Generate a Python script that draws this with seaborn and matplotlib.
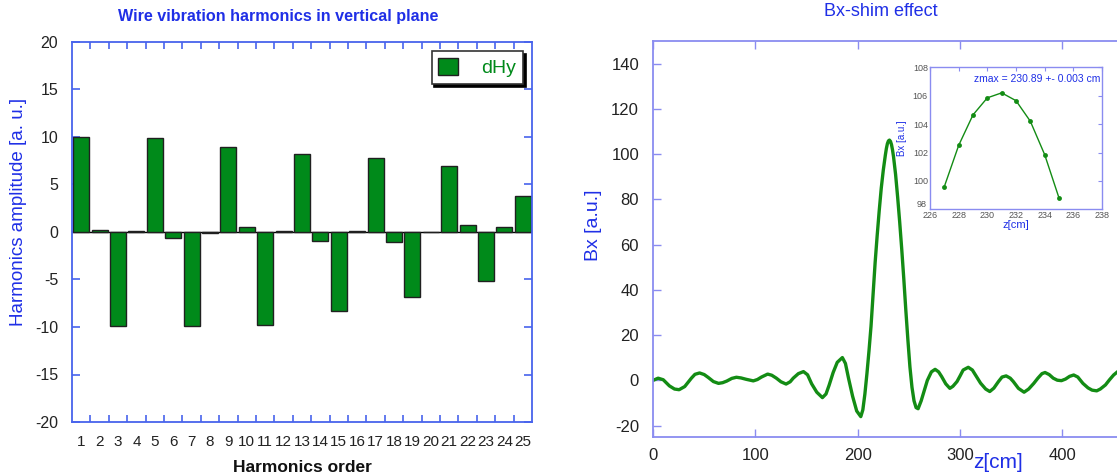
import numpy as np
import pandas as pd
import matplotlib
matplotlib.use("Agg")
import matplotlib.pyplot as plt
from matplotlib.patches import Patch
from matplotlib.ticker import MultipleLocator, FixedLocator
import seaborn as sns

# ---------------- data ----------------
harm_order = list(range(1, 26))
harm_dHy = [10.0, 0.2, -9.9, 0.1, 9.85, -0.6, -9.9, -0.15, 8.95, 0.5,
            -9.8, 0.1, 8.25, -0.95, -8.3, 0.1, 7.8, -1.05, -6.85, 0.0,
            6.95, 0.75, -5.15, 0.5, 3.8]

bx_z = [0, 5, 10, 16, 21, 25.5, 31, 37.5, 41, 45.5, 50, 54, 59, 64, 68, 72, 77,
        81.5, 86, 91, 98, 102, 106, 112, 116, 120.5, 125, 130, 134, 137, 142,
        147, 151, 155, 160, 165.5, 169, 172, 176, 180, 185, 188, 191, 195, 199,
        203, 205, 207, 209, 211, 213, 215, 217, 219, 221, 223, 225, 227, 228,
        229, 230, 231, 232, 233, 234, 235, 237, 239, 241, 243, 245, 247, 249,
        251, 253, 255, 257, 259, 262, 265, 268, 272, 275.6, 279, 282, 286, 290,
        293, 297, 300, 303, 308, 312, 316, 320, 325, 329, 333, 337.5, 341, 345,
        349, 352, 357, 362.5, 367, 372, 376, 380, 383, 387, 391, 395, 399, 403,
        407, 411, 415, 420, 425, 429, 433.5, 437, 442, 446, 450, 454]
bx_val = [0, 1.0, 0.3, -2.4, -3.8, -4.1, -2.7, 1.0, 2.7, 3.3, 2.6, 1.3, -0.5,
          -1.3, -1.0, -0.3, 0.9, 1.4, 1.1, 0.5, -0.2, 0.4, 1.5, 2.8, 2.3, 1.0,
          -0.6, -1.6, -0.6, 1.0, 3.0, 3.9, 2.5, -1.5, -5.2, -7.6, -6.0, -2.2,
          3.5, 8.0, 10.1, 7.5, 1.0, -7.0, -13.5, -16.0, -13.0, -6.0, 3.0, 13.0,
          24.0, 38.0, 52.0, 64.0, 75.0, 85.0, 93.0, 99.6, 102.5, 104.65, 105.85,
          106.2, 105.65, 104.2, 101.85, 98.8, 91.0, 81.0, 70.0, 58.0, 45.0,
          31.0, 18.0, 6.0, -3.0, -9.0, -12.0, -12.5, -9.0, -4.5, 0.0, 3.8, 4.9,
          3.8, 1.7, -1.5, -3.5, -2.6, -0.5, 2.0, 4.6, 5.8, 4.6, 1.7, -1.2, -3.8,
          -4.9, -3.4, -0.5, 1.5, 2.0, 1.0, -0.5, -3.5, -5.2, -3.8, -1.3, 1.0,
          3.0, 3.5, 2.6, 1.0, 0.1, -0.1, 0.6, 1.8, 2.4, 1.5, -1.3, -3.3, -4.3,
          -4.6, -3.8, -2.0, 0.3, 2.4, 3.9]

inset_z = [227, 228, 229, 230, 231, 232, 233, 234, 235]
inset_bx = [99.6, 102.5, 104.65, 105.85, 106.2, 105.65, 104.2, 101.85, 98.8]

right_xticks = [0, 100, 200, 300, 400]

left_title = "Wire vibration harmonics in vertical plane"
right_title = "Bx-shim effect"
zmax_text = "zmax = 230.89 +- 0.003 cm"

# ---------------- style ----------------
sns.set_theme(style="white")
plt.rcParams["font.family"] = ["Liberation Sans", "DejaVu Sans"]
plt.rcParams["axes.unicode_minus"] = False

BLUE = "#1f2fe6"
SPINE_L = "#4863ec"
SPINE_R = "#8a8cf0"
BAR_GREEN = "#008a1a"
LINE_GREEN = "#138c14"
TICK_TXT = "#222222"

fig = plt.figure(figsize=(11.17, 4.76), dpi=100)
fig.patch.set_facecolor("white")

# ---------------- left: bar chart ----------------
axL = fig.add_axes([72 / 1117, 1 - 422 / 476, 460 / 1117, 380 / 476])
dfh = pd.DataFrame({"order": [str(o) for o in harm_order], "dHy": harm_dHy})
sns.barplot(data=dfh, x="order", y="dHy", color=BAR_GREEN, saturation=1,
            width=0.86, edgecolor="#202020", linewidth=1.0, ax=axL)
axL.axhline(0, color="black", lw=1.0, zorder=0.5)
axL.set_xlim(-0.5, len(harm_order) - 0.5)
axL.set_ylim(-20, 20)
axL.yaxis.set_major_locator(MultipleLocator(5))
axL.xaxis.set_minor_locator(FixedLocator(np.arange(0.5, len(harm_order) - 1, 1.0)))
axL.tick_params(axis="x", which="major", length=0, pad=9, labelsize=11,
                labelcolor=TICK_TXT)
axL.tick_params(axis="x", which="minor", direction="in", length=5, width=1.2,
                color=SPINE_L, top=True, bottom=True)
axL.tick_params(axis="y", which="major", direction="in", length=6, width=1.2,
                color=SPINE_L, left=True, right=True, labelsize=11.5,
                labelcolor=TICK_TXT, pad=10)
for s in axL.spines.values():
    s.set_color(SPINE_L)
    s.set_linewidth(1.3)
axL.set_xlabel("Harmonics order", fontsize=12.5, fontweight="bold",
               color="#111111", labelpad=8)
axL.set_ylabel("")
fig.text(19 / 1117, 1 - 212 / 476, "Harmonics amplitude [a. u.]", rotation=90,
         ha="center", va="center", fontsize=13.5, color=BLUE)
leg = axL.legend(handles=[Patch(facecolor=BAR_GREEN, edgecolor="#202020",
                                label="dHy")],
                 loc="upper right", bbox_to_anchor=(0.98, 0.976),
                 borderaxespad=0, fontsize=14, labelcolor=BAR_GREEN,
                 frameon=True, fancybox=False, edgecolor="#333333",
                 shadow={"color": "black", "alpha": 1.0},
                 handlelength=1.0, handleheight=1.0, borderpad=0.35,
                 handletextpad=1.2)
leg.get_frame().set_linewidth(1.2)
fig.text(278 / 1117, 1 - 16 / 476, left_title, ha="center", va="center",
         fontsize=11.6, color=BLUE, fontweight="bold")

# ---------------- right: line chart ----------------
axR = fig.add_axes([653 / 1117, 1 - 437 / 476, 511.8 / 1117, 396 / 476])
dfb = pd.DataFrame({"z": bx_z, "Bx": bx_val})
sns.lineplot(data=dfb, x="z", y="Bx", color=LINE_GREEN, lw=2.4, ax=axR)
axR.set_xlim(0, 500)
axR.set_ylim(-25, 150)
axR.xaxis.set_major_locator(FixedLocator(right_xticks))
axR.yaxis.set_major_locator(MultipleLocator(20))
axR.tick_params(axis="both", which="major", direction="in", length=6,
                width=1.0, color=SPINE_R, labelsize=12, labelcolor=TICK_TXT)
axR.tick_params(axis="x", top=True, bottom=True, pad=8)
axR.tick_params(axis="y", left=True, right=True, pad=10)
for s in axR.spines.values():
    s.set_color(SPINE_R)
    s.set_linewidth(1.3)
axR.set_xlabel("")
axR.set_ylabel("")
fig.text(593 / 1117, 1 - 225 / 476, "Bx [a.u.]", rotation=90, ha="center",
         va="center", fontsize=14, color=BLUE)
fig.text(998 / 1117, 1 - 462 / 476, "z[cm]", ha="center", va="center",
         fontsize=15, color=BLUE)
fig.text(881 / 1117, 1 - 11 / 476, right_title, ha="center", va="center",
         fontsize=13, color=BLUE)

# ---------------- inset ----------------
axI = fig.add_axes([930 / 1117, 1 - 209.3 / 476, 172 / 1117, 142 / 476])
dfi = pd.DataFrame({"z": inset_z, "Bx": inset_bx})
sns.lineplot(data=dfi, x="z", y="Bx", color=LINE_GREEN, lw=1.0,
             marker="o", markersize=3.5, markeredgewidth=0, ax=axI)
axI.set_xlim(226, 238)
axI.set_ylim(98, 108)
axI.xaxis.set_major_locator(MultipleLocator(2))
axI.yaxis.set_major_locator(FixedLocator([100, 102, 104, 106, 108]))
axI.tick_params(axis="both", which="major", direction="in", length=3,
                width=0.8, color=SPINE_R, labelsize=6.5, labelcolor="#555555",
                pad=1.5, top=True, right=True)
for s in axI.spines.values():
    s.set_color(SPINE_R)
    s.set_linewidth(1.0)
axI.text(-0.02, 0.035, "98", transform=axI.transAxes, ha="right",
         va="center", fontsize=6.5, color="#555555")
axI.set_xlabel("z[cm]", fontsize=8, color=BLUE, labelpad=0)
axI.set_ylabel("Bx [a.u.]", fontsize=7, color=BLUE, labelpad=4)
axI.text(0.99, 0.92, zmax_text, transform=axI.transAxes, ha="right",
         va="center", fontsize=7.5, color=BLUE)

fig.savefig("out.png", dpi=100, facecolor="white")
